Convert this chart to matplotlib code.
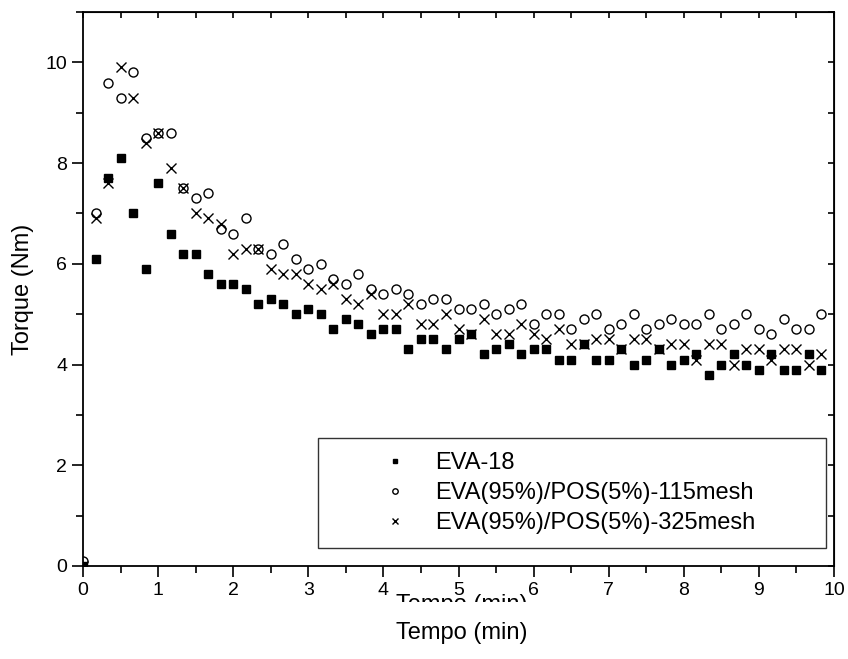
# -*- coding: utf8
'''
Torque vs. time for EVA-18 and the two EVA/POS blends.
'''
from matplotlib import pyplot as plt
from matplotlib.patches import Rectangle
from matplotlib.ticker import MultipleLocator

plt.rcParams['font.family'] = ['Liberation Sans', 'DejaVu Sans']

# one reading every 10 s (1/6 min), 60 readings
tempo = [i / 6 for i in range(60)]

eva18 = [0.0, 6.1, 7.7, 8.1, 7.0, 5.9, 7.6, 6.6, 6.2, 6.2,
         5.8, 5.6, 5.6, 5.5, 5.2, 5.3, 5.2, 5.0, 5.1, 5.0,
         4.7, 4.9, 4.8, 4.6, 4.7, 4.7, 4.3, 4.5, 4.5, 4.3,
         4.5, 4.6, 4.2, 4.3, 4.4, 4.2, 4.3, 4.3, 4.1, 4.1,
         4.4, 4.1, 4.1, 4.3, 4.0, 4.1, 4.3, 4.0, 4.1, 4.2,
         3.8, 4.0, 4.2, 4.0, 3.9, 4.2, 3.9, 3.9, 4.2, 3.9]

mesh115 = [0.1, 7.0, 9.6, 9.3, 9.8, 8.5, 8.6, 8.6, 7.5, 7.3,
           7.4, 6.7, 6.6, 6.9, 6.3, 6.2, 6.4, 6.1, 5.9, 6.0,
           5.7, 5.6, 5.8, 5.5, 5.4, 5.5, 5.4, 5.2, 5.3, 5.3,
           5.1, 5.1, 5.2, 5.0, 5.1, 5.2, 4.8, 5.0, 5.0, 4.7,
           4.9, 5.0, 4.7, 4.8, 5.0, 4.7, 4.8, 4.9, 4.8, 4.8,
           5.0, 4.7, 4.8, 5.0, 4.7, 4.6, 4.9, 4.7, 4.7, 5.0]

mesh325 = [0.0, 6.9, 7.6, 9.9, 9.3, 8.4, 8.6, 7.9, 7.5, 7.0,
           6.9, 6.8, 6.2, 6.3, 6.3, 5.9, 5.8, 5.8, 5.6, 5.5,
           5.6, 5.3, 5.2, 5.4, 5.0, 5.0, 5.2, 4.8, 4.8, 5.0,
           4.7, 4.6, 4.9, 4.6, 4.6, 4.8, 4.6, 4.5, 4.7, 4.4,
           4.4, 4.5, 4.5, 4.3, 4.5, 4.5, 4.3, 4.4, 4.4, 4.1,
           4.4, 4.4, 4.0, 4.3, 4.3, 4.1, 4.3, 4.3, 4.0, 4.2]

labels = ['EVA-18', 'EVA(95%)/POS(5%)-115mesh', 'EVA(95%)/POS(5%)-325mesh']


def main():
    fig = plt.figure(figsize=(8.48, 6.59), dpi=100)
    ax = fig.add_axes([83 / 848, 1 - 566 / 659, 751 / 848, 554 / 659])

    ax.plot(tempo, mesh325, 'x', color='black', ms=7, mew=1.0,
            label=labels[2], zorder=3)
    ax.plot(tempo, mesh115, 'o', mfc='white', mec='black', ms=6.5,
            mew=1.0, label=labels[1], zorder=2)
    ax.plot(tempo, eva18, 's', color='black', ms=6, label=labels[0],
            zorder=4)

    ax.set_xlim(0, 10)
    ax.set_ylim(0, 11)
    ax.xaxis.set_major_locator(MultipleLocator(1))
    ax.xaxis.set_minor_locator(MultipleLocator(0.5))
    ax.yaxis.set_major_locator(MultipleLocator(2))
    ax.yaxis.set_minor_locator(MultipleLocator(1))
    ax.tick_params(which='both', direction='out', labelsize=14,
                   width=1.2, top=False, right=False)
    ax.tick_params(which='major', length=8)
    ax.tick_params(which='minor', length=5)
    for side in ['left', 'bottom', 'top', 'right']:
        ax.spines[side].set_linewidth(1.3)

    # inward ticks on the top and right frame
    top = ax.secondary_xaxis('top')
    top.set_xticks([i / 2 for i in range(21)])
    top.tick_params(direction='in', length=4, width=1.2, labeltop=False)
    right = ax.secondary_yaxis('right')
    right.set_yticks(list(range(12)))
    right.tick_params(direction='in', length=4, width=1.2, labelright=False)

    ax.set_ylabel('Torque (Nm)', fontsize=17, labelpad=8)
    fig.text(462 / 848, 1 - 633 / 659, 'Tempo (min)', fontsize=17,
             ha='center', va='center')

    # half-hidden duplicate of the x label, as in the original export
    fig.text(462 / 848, 1 - 605 / 659, 'Tempo (min)', fontsize=17,
             ha='center', va='center')
    fig.patches.append(Rectangle((0.4, 1 - 618 / 659), 0.3, 16 / 659,
                                 transform=fig.transFigure,
                                 facecolor='white', edgecolor='none',
                                 zorder=10))

    handles, labs = ax.get_legend_handles_labels()
    order = [2, 1, 0]
    x0 = (318 - 83) / 751
    y0 = (566 - 548) / 554
    leg = ax.legend([handles[i] for i in order], [labs[i] for i in order],
                    loc='lower left', mode='expand',
                    bbox_to_anchor=(x0, y0, (826 - 318) / 751, 0.2),
                    fontsize=17, markerscale=0.6, frameon=True,
                    fancybox=False, edgecolor='black', borderpad=0.6,
                    handlelength=5.3, handletextpad=-0.95,
                    labelspacing=0.34, borderaxespad=0)
    leg.get_frame().set_linewidth(1.0)

    fig.savefig('out.png', dpi=100)


if __name__ == '__main__':
    main()
